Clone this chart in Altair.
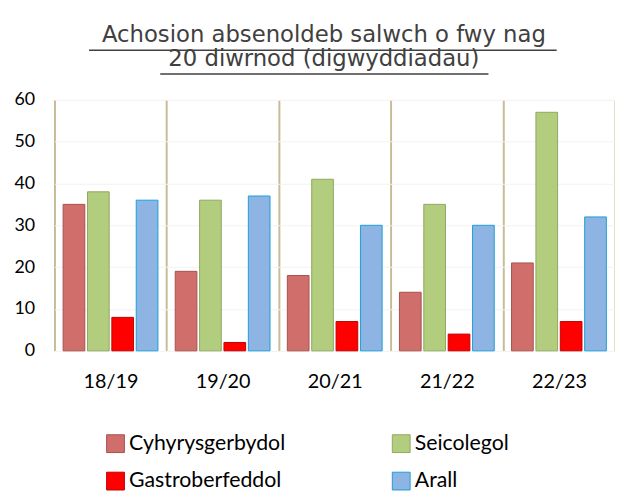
import altair as alt
import pandas as pd

periods = ["18/19", "19/20", "20/21", "21/22", "22/23"]
series = ["Cyhyrysgerbydol", "Seicolegol", "Gastroberfeddol", "Arall"]
cyhyrysgerbydol = [35, 19, 18, 14, 21]
seicolegol = [38, 36, 41, 35, 57]
gastroberfeddol = [8, 2, 7, 4, 7]
arall = [36, 37, 30, 30, 32]
fill_colors = ["#d06e6c", "#b3cd7f", "#ff0000", "#8db4e2"]
stroke_colors = ["#a9504e", "#8fa95f", "#c00000", "#1a9fd8"]
title_lines = ["Achosion absenoldeb salwch o fwy nag", "20 diwrnod (digwyddiadau)"]

values = [cyhyrysgerbydol, seicolegol, gastroberfeddol, arall]
rows = []
for s, vals in zip(series, values):
    for p, v in zip(periods, vals):
        rows.append({"period": p, "series": s, "value": v})
df = pd.DataFrame(rows)

W, H = 567, 254

bars = alt.Chart(df).mark_bar(strokeWidth=1).encode(
    x=alt.X("period:N", sort=periods, title=None,
            scale=alt.Scale(paddingInner=0, paddingOuter=0),
            axis=alt.Axis(labelAngle=0, labelFontSize=20, labelFont="Lato",
                          labelColor="#000000", labelPadding=21, ticks=False,
                          domain=False, grid=True, tickBand="extent",
                          gridColor="#c4bd97", gridWidth=2)),
    xOffset=alt.XOffset("series:N", sort=series,
                        scale=alt.Scale(domain=series, paddingInner=0.11, paddingOuter=0.355)),
    y=alt.Y("value:Q", title=None,
            scale=alt.Scale(domain=[0, 60]),
            axis=alt.Axis(values=[0, 10, 20, 30, 40, 50, 60], labelFontSize=18,
                          labelFont="Lato", labelColor="#000000", labelPadding=20,
                          ticks=False, domain=False, gridColor="#f2f2f2")),
    color=alt.Color("series:N", sort=series,
                    scale=alt.Scale(domain=series, range=fill_colors),
                    legend=alt.Legend(title=None, orient="none", legendX=51, legendY=337,
                                      columns=2, direction="horizontal",
                                      symbolType="square", symbolSize=324,
                                      labelFontSize=21.5, labelFont="Lato", labelColor="#000000",
                                      labelOffset=3, rowPadding=15, columnPadding=105,
                                      symbolStrokeWidth=1)),
    stroke=alt.Stroke("series:N", sort=series,
                      scale=alt.Scale(domain=series, range=stroke_colors)),
)

one = alt.Data(values=[{}])
u1 = alt.Chart(one).mark_rule(color="#404040", strokeWidth=1.5).encode(
    x=alt.value(35), x2=alt.value(508), y=alt.value(-50))
u2 = alt.Chart(one).mark_rule(color="#404040", strokeWidth=1.5).encode(
    x=alt.value(107), x2=alt.value(439), y=alt.value(-26))

chart = alt.layer(bars, u1, u2).properties(
    width=W, height=H,
    autosize=alt.AutoSizeParams(type="none"),
    padding={"left": 47, "top": 90, "right": 0, "bottom": 142},
    title=alt.TitleParams(title_lines, font="DejaVu Sans", fontSize=23, fontWeight="normal",
                          color="#404040", anchor="middle", dx=-11, dy=52, offset=30,
                          lineHeight=25),
).configure_view(stroke=None)

chart.save("out.html", embed_options={"renderer": "svg", "actions": False})
